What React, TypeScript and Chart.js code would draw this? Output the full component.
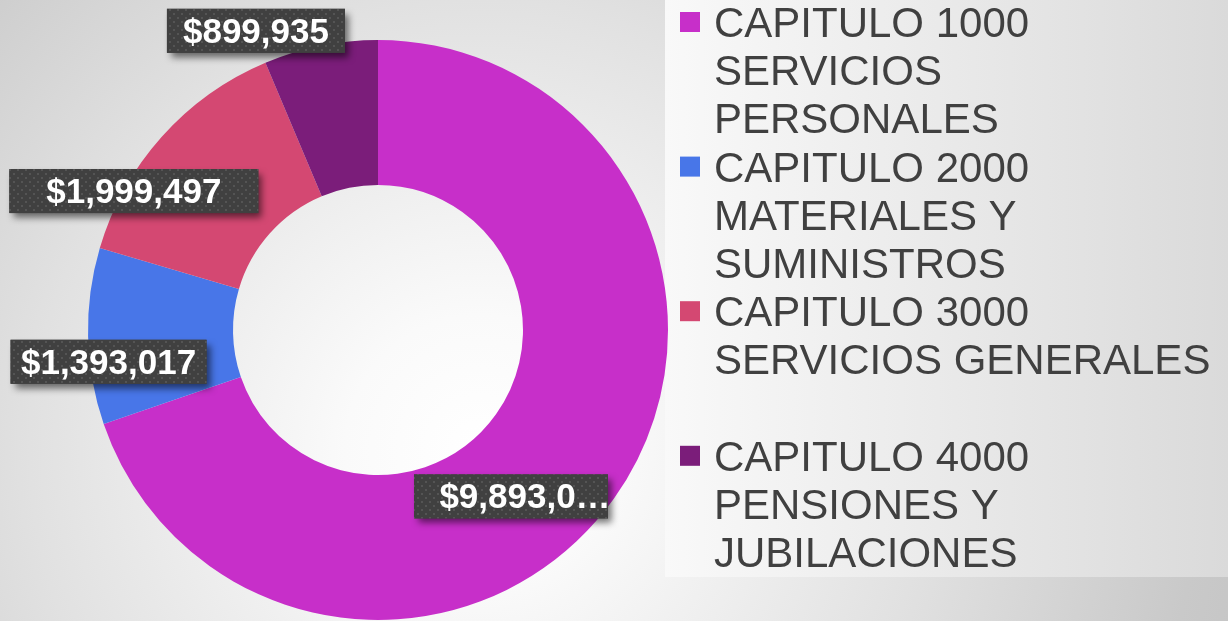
import React, { useEffect, useRef } from "react";
import { Chart, registerables } from "chart.js";

Chart.register(...registerables);

// ---- data ----
const categories = [
  "CAPITULO 1000 SERVICIOS PERSONALES",
  "CAPITULO 2000 MATERIALES Y SUMINISTROS",
  "CAPITULO 3000 SERVICIOS GENERALES",
  "CAPITULO 4000 PENSIONES Y JUBILACIONES",
];
const amounts = [9893000, 1393017, 1999497, 899935];
const sliceColors = ["#C72FC9", "#4876E8", "#D44872", "#7B1D7A"];

// ---- label styling (offsets relative to each arc's centroid) ----
const labelOffsets = [
  [-44, 40],
  [-52, 27],
  [-82, 6],
  [-79, -86],
];
const labelBoxWidths = [194, 196, 249, 178];
const labelMaxTextWidth = [172, 0, 0, 0];
const labelTextShift = [14, 0, 0, 0];

const LABEL_FONT = 'bold 35px "Liberation Sans", Arial, sans-serif';
const LEGEND_FONT = '42px "Liberation Sans", Arial, sans-serif';

function fmt(v: number) {
  return "$" + v.toLocaleString("en-US");
}

function makePattern(ctx: CanvasRenderingContext2D) {
  const c = document.createElement("canvas");
  c.width = 8;
  c.height = 8;
  const p = c.getContext("2d")!;
  p.fillStyle = "#404040";
  p.fillRect(0, 0, 8, 8);
  p.fillStyle = "#545454";
  p.fillRect(1, 1, 2, 2);
  p.fillRect(5, 5, 2, 2);
  return ctx.createPattern(c, "repeat");
}

function wrapText(ctx: CanvasRenderingContext2D, text: string, maxW: number) {
  const words = text.split(" ");
  const lines: string[] = [];
  let cur = "";
  for (const w of words) {
    const test = cur ? cur + " " + w : w;
    if (ctx.measureText(test).width > maxW && cur) {
      lines.push(cur);
      cur = w;
    } else {
      cur = test;
    }
  }
  if (cur) lines.push(cur);
  return lines;
}

const backgroundPlugin = {
  id: "slideBackground",
  beforeDraw(chart: any) {
    const { ctx, width, height } = chart;
    ctx.save();
    const g = ctx.createRadialGradient(480, 450, 0, 480, 450, 900);
    g.addColorStop(0, "#ffffff");
    g.addColorStop(0.15, "#fafafa");
    g.addColorStop(0.5, "#e1e1e1");
    g.addColorStop(0.8, "#c9c9c9");
    g.addColorStop(1, "#c0c0c0");
    ctx.fillStyle = g;
    ctx.fillRect(0, 0, width, height);
    // legend panel
    const lg = ctx.createLinearGradient(665, 0, width, 0);
    lg.addColorStop(0, "#f9f9f9");
    lg.addColorStop(1, "#dadada");
    ctx.fillStyle = lg;
    ctx.fillRect(665, 0, width - 665, 577);
    ctx.restore();
  },
};

const labelsPlugin = {
  id: "boxLabels",
  afterDatasetsDraw(chart: any) {
    const { ctx } = chart;
    const meta = chart.getDatasetMeta(0);
    const pattern = makePattern(ctx);
    ctx.save();
    ctx.font = LABEL_FONT;
    meta.data.forEach((arc: any, i: number) => {
      const pos = arc.tooltipPosition(false);
      const cx = pos.x + labelOffsets[i][0];
      const cy = pos.y + labelOffsets[i][1];
      const bw = labelBoxWidths[i];
      const bh = 44;
      let text = fmt(chart.data.datasets[0].data[i]);
      const maxW = labelMaxTextWidth[i];
      if (maxW && ctx.measureText(text).width > maxW) {
        let t = text;
        while (t.length > 1 && ctx.measureText(t + "…").width > maxW) {
          t = t.slice(0, -1);
        }
        text = t + "…";
      }
      ctx.save();
      ctx.shadowColor = "rgba(0,0,0,0.55)";
      ctx.shadowBlur = 7;
      ctx.shadowOffsetX = 4;
      ctx.shadowOffsetY = 5;
      ctx.fillStyle = "#404040";
      ctx.fillRect(cx - bw / 2, cy - bh / 2, bw, bh);
      ctx.restore();
      ctx.fillStyle = pattern || "#404040";
      ctx.fillRect(cx - bw / 2, cy - bh / 2, bw, bh);
      ctx.fillStyle = "#ffffff";
      ctx.textAlign = "center";
      ctx.textBaseline = "alphabetic";
      ctx.fillText(text, cx + labelTextShift[i], cy + 12);
    });
    ctx.restore();
  },
};

const legendPlugin = {
  id: "sideLegend",
  afterDraw(chart: any) {
    const { ctx } = chart;
    const labels: string[] = chart.data.labels;
    const colors: string[] = chart.data.datasets[0].backgroundColor;
    ctx.save();
    ctx.font = LEGEND_FONT;
    ctx.textAlign = "left";
    ctx.textBaseline = "alphabetic";
    const lineH = 48.2;
    const itemH = lineH * 3;
    const textX = 714;
    labels.forEach((lab, i) => {
      const top = i * itemH;
      const lines = wrapText(ctx, lab, 508);
      ctx.fillStyle = colors[i];
      ctx.fillRect(680, top + 12, 20, 20);
      ctx.fillStyle = "#404040";
      lines.forEach((ln, j) => {
        ctx.fillText(ln, textX, top + 37 + j * lineH);
      });
    });
    ctx.restore();
  },
};

export default function App() {
  const canvasRef = useRef<HTMLCanvasElement | null>(null);

  useEffect(() => {
    document.body.style.margin = "0";
    const canvas = canvasRef.current!;
    const chart = new Chart(canvas, {
      type: "doughnut",
      data: {
        labels: categories,
        datasets: [
          {
            data: amounts,
            backgroundColor: sliceColors,
            borderWidth: 0,
          },
        ],
      },
      options: {
        animation: false,
        responsive: true,
        maintainAspectRatio: false,
        cutout: "50%",
        layout: {
          padding: { left: 88, top: 40, right: 560, bottom: 1 },
        },
        plugins: {
          legend: { display: false },
          tooltip: { enabled: false },
        },
      },
      plugins: [backgroundPlugin, labelsPlugin, legendPlugin],
    });
    return () => chart.destroy();
  }, []);

  return (
    <div style={{ position: "absolute", left: 0, top: 0, width: 1228, height: 621 }}>
      <canvas ref={canvasRef} style={{ display: "block" }} />
    </div>
  );
}
